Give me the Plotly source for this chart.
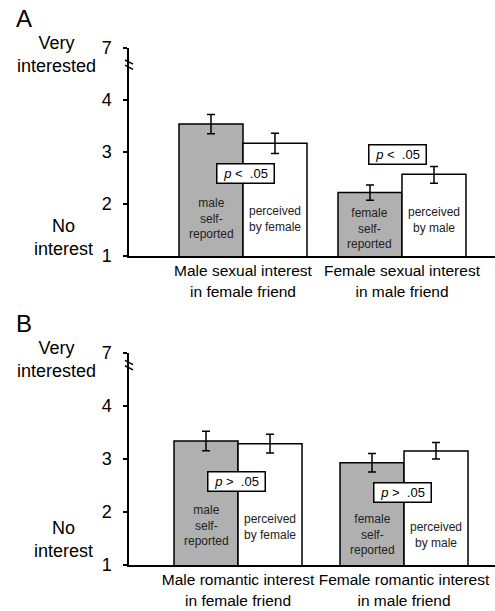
import plotly.graph_objects as go

# ---- data ----
groups_A = ["Male sexual interest<br>in female friend", "Female sexual interest<br>in male friend"]
self_A = [3.54, 2.22]
self_A_err_up = [0.18, 0.145]
self_A_err_dn = [0.19, 0.15]
perc_A = [3.17, 2.57]
perc_A_err_up = [0.19, 0.15]
perc_A_err_dn = [0.20, 0.17]

groups_B = ["Male romantic interest<br>in female friend", "Female romantic interest<br>in male friend"]
self_B = [3.34, 2.93]
self_B_err_up = [0.185, 0.175]
self_B_err_dn = [0.185, 0.175]
perc_B = [3.29, 3.15]
perc_B_err_up = [0.175, 0.16]
perc_B_err_dn = [0.175, 0.15]

self_labels_A = ["male<br>self-<br>reported", "female<br>self-<br>reported"]
perc_labels_A = ["perceived<br>by female", "perceived<br>by male"]
self_labels_B = self_labels_A
perc_labels_B = perc_labels_A
self_label_y_A = [1.73, 1.52]
perc_label_y_A = [1.71, 1.70]
self_label_y_B = [1.75, 1.57]
perc_label_y_B = [1.72, 1.57]

p_text_A = "<i>p</i> <  .05"
p_text_B = "<i>p</i> >  .05"
p_pos_A = [(0.016, 2.59), (0.969, 2.96)]
p_pos_B = [(-0.008, 2.57), (0.993, 2.36)]

ytick_vals = [1, 2, 3, 4, 5]
ytick_text = ["1", "2", "3", "4", "7"]

# ---- style ----
FONT = "Arial, Liberation Sans, sans-serif"
GRAY = "#b0b0b0"
wA = 0.4025
wB = 0.3855
xs = [0, 1]

fig = go.Figure()

def add_pair(selfv, su, sd, percv, pu, pd, w, xa, ya):
    err = lambda up, dn: dict(type="data", array=up, arrayminus=dn, symmetric=False,
                              color="black", thickness=1.5, width=4)
    fig.add_trace(go.Bar(x=xs, y=selfv, width=w, offset=-w, marker=dict(color=GRAY, line=dict(color="black", width=1.5)),
                         error_y=err(su, sd), xaxis=xa, yaxis=ya, showlegend=False, hoverinfo="skip"))
    fig.add_trace(go.Bar(x=xs, y=percv, width=w, offset=0, marker=dict(color="white", line=dict(color="black", width=1.5)),
                         error_y=err(pu, pd), xaxis=xa, yaxis=ya, showlegend=False, hoverinfo="skip"))

add_pair(self_A, self_A_err_up, self_A_err_dn, perc_A, perc_A_err_up, perc_A_err_dn, wA, "x", "y")
add_pair(self_B, self_B_err_up, self_B_err_dn, perc_B, perc_B_err_up, perc_B_err_dn, wB, "x2", "y2")

annotations = []
shapes = []

def panel_annots(xr, yr, w, self_labels, perc_labels, sy, py, ptext, ppos):
    for i in range(2):
        annotations.append(dict(x=xs[i] - w / 2, y=sy[i], xref=xr, yref=yr, text=self_labels[i], showarrow=False,
                                font=dict(size=12, color="#222", family=FONT), yanchor="middle"))
        annotations.append(dict(x=xs[i] + w / 2, y=py[i], xref=xr, yref=yr, text=perc_labels[i], showarrow=False,
                                font=dict(size=12, color="#222", family=FONT), yanchor="middle"))
        annotations.append(dict(x=ppos[i][0], y=ppos[i][1], xref=xr, yref=yr, text=ptext, showarrow=False,
                                font=dict(size=13, color="black", family=FONT), bgcolor="white",
                                bordercolor="black", borderwidth=1.5, borderpad=1, width=54, height=16))

panel_annots("x", "y", wA, self_labels_A, perc_labels_A, self_label_y_A, perc_label_y_A, p_text_A, p_pos_A)
panel_annots("x2", "y2", wB, self_labels_B, perc_labels_B, self_label_y_B, perc_label_y_B, p_text_B, p_pos_B)

# side labels (pixel -> paper)
L, R, T, B = 129, 0, 48, 46
W, H = 495, 611
PW, PH = W - L - R, H - T - B
px = lambda p: (p - L) / PW
py_ = lambda p: (H - B - p) / PH

side = [("A", 24, 18.5, 24), ("B", 23.5, 323, 24),
        ("Very<br>interested", 56, 54, 18), ("No<br>interest", 63, 237.5, 18),
        ("Very<br>interested", 56, 359, 18), ("No<br>interest", 63, 539, 18)]
for t, xx, yy, s in side:
    annotations.append(dict(x=px(xx), y=py_(yy), xref="paper", yref="paper", text=t, showarrow=False,
                            xanchor="center", yanchor="middle", align="center",
                            font=dict(size=s, color="black", family=FONT)))

# axis break marks
for yr, yb in (("y", 4.72), ("y2", 4.81)):
    for d in (0.0, 0.1):
        shapes.append(dict(type="line", xref="paper", yref=yr, x0=-0.011, x1=0.011,
                           y0=yb + 0.05 - d, y1=yb - 0.03 - d, line=dict(color="black", width=1.5)))

xcommon = dict(showline=True, linecolor="black", linewidth=1.5, ticks="", tickvals=xs, showgrid=False,
               zeroline=False, tickfont=dict(size=15.5, color="black", family=FONT), fixedrange=True,
               automargin=False)
ycommon = dict(showline=True, linecolor="black", linewidth=1.5, ticks="outside", ticklen=4, tickwidth=1.5,
               tickcolor="black", tickvals=ytick_vals, ticktext=ytick_text, range=[1, 5], showgrid=False,
               zeroline=False, tickfont=dict(size=18, color="black", family=FONT), ticklabelstandoff=8,
               automargin=False)

fig.update_layout(
    width=W, height=H, margin=dict(l=L, r=R, t=T, b=B, autoexpand=False),
    paper_bgcolor="white", plot_bgcolor="white", barmode="overlay",
    xaxis=dict(xcommon, ticktext=groups_A, range=[-0.717, 1.585], anchor="y"),
    yaxis=dict(ycommon, domain=[py_(256), 1.0], anchor="x"),
    xaxis2=dict(xcommon, ticktext=groups_B, range=[-0.6566, 1.548], anchor="y2"),
    yaxis2=dict(ycommon, domain=[0.0, py_(353)], anchor="x2"),
    annotations=annotations, shapes=shapes,
)

fig.write_html("out.html", config={"displayModeBar": False},
               post_script="document.body.style.margin='0';document.body.style.overflow='hidden';")
